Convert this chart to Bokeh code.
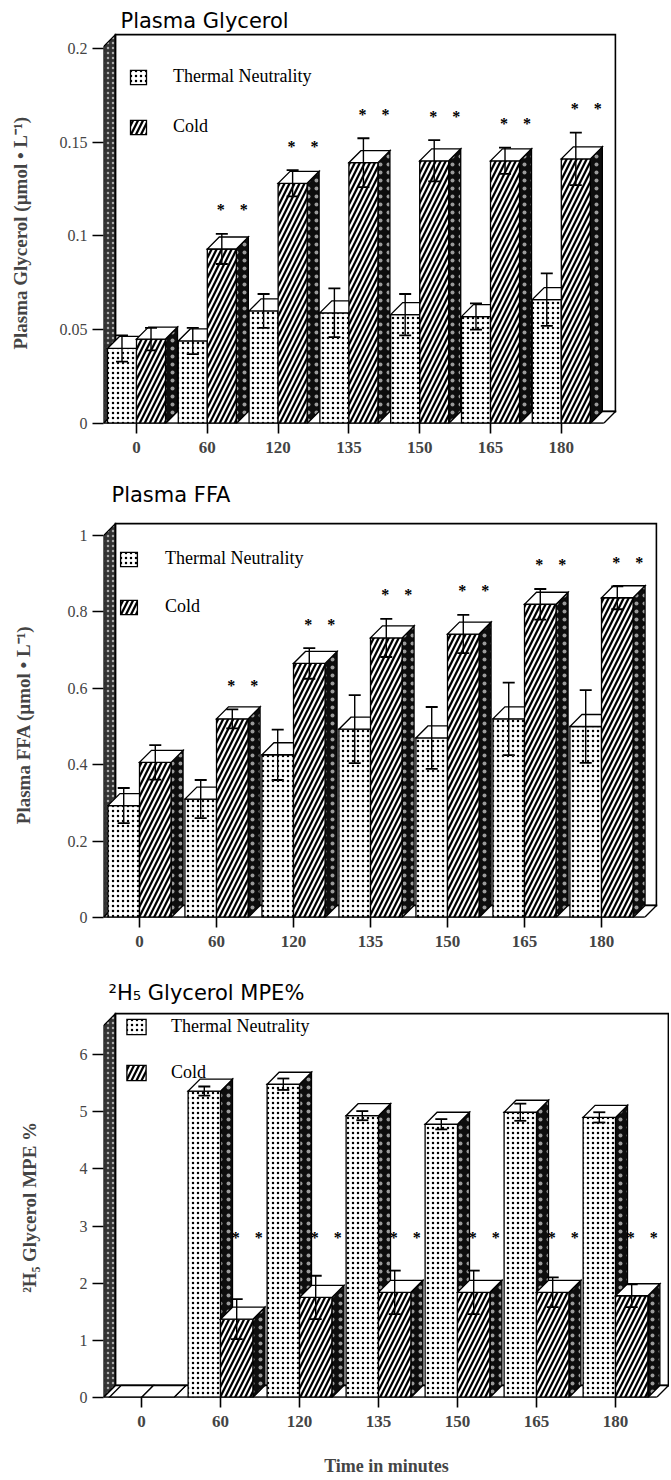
import numpy as np
from bokeh.plotting import figure
from bokeh.models import ColumnDataSource, FixedTicker, Legend, LegendItem, Title, Range1d
from bokeh.layouts import column
from bokeh.embed import file_html
from bokeh.resources import INLINE
from bokeh.core.properties import value

# ---------------- data ----------------
times = ["0", "60", "120", "135", "150", "165", "180"]
groups = ["Thermal Neutrality", "Cold"]

glycerol_tn = [0.040, 0.044, 0.060, 0.059, 0.058, 0.057, 0.066]
glycerol_tn_se = [0.007, 0.007, 0.009, 0.013, 0.011, 0.007, 0.014]
glycerol_cold = [0.045, 0.093, 0.128, 0.139, 0.140, 0.140, 0.141]
glycerol_cold_se = [0.006, 0.008, 0.007, 0.013, 0.011, 0.007, 0.014]
glycerol_sig = [False, True, True, True, True, True, True]
glycerol_ticks = [0, 0.05, 0.1, 0.15, 0.2]
glycerol_tick_labels = ["0", "0.05", "0.1", "0.15", "0.2"]

ffa_tn = [0.293, 0.310, 0.426, 0.493, 0.470, 0.520, 0.500]
ffa_tn_se = [0.046, 0.050, 0.066, 0.089, 0.081, 0.095, 0.095]
ffa_cold = [0.406, 0.520, 0.665, 0.732, 0.742, 0.820, 0.837]
ffa_cold_se = [0.045, 0.025, 0.040, 0.050, 0.050, 0.040, 0.030]
ffa_sig = [False, True, True, True, True, True, True]
ffa_ticks = [0, 0.2, 0.4, 0.6, 0.8, 1.0]
ffa_tick_labels = ["0", "0.2", "0.4", "0.6", "0.8", "1"]

mpe_tn = [0.0, 5.36, 5.48, 4.93, 4.78, 4.99, 4.90]
mpe_tn_se = [0.0, 0.08, 0.10, 0.08, 0.09, 0.15, 0.09]
mpe_cold = [0.0, 1.37, 1.75, 1.84, 1.84, 1.84, 1.78]
mpe_cold_se = [0.0, 0.35, 0.38, 0.38, 0.38, 0.26, 0.20]
mpe_sig = [False, True, True, True, True, True, True]
mpe_sig_level = 2.87
mpe_ticks = [0, 1, 2, 3, 4, 5, 6]
mpe_tick_labels = ["0", "1", "2", "3", "4", "5", "6"]

# ---------------- styling ----------------
W = 0.41            # bar width (category units)
DEPTH = (12, 12)    # 3-D depth in px (right, up)
CAP = 6             # half width of error-bar caps, px
STAR_DX = (-1, 22)  # px offsets of the two stars from the cold bar centre
STAR_DY = -24
SERIF = "Liberation Serif"
TITLE_FONT = "DejaVu Sans"
PAGE_W = 669

STYLES = {
    "slab":  dict(fill_color="#333333", hatch_pattern="dot", hatch_color="#aaaaaa", hatch_scale=5, hatch_weight=0.4, line_width=1.2),
    "wall":  dict(fill_color="white", hatch_pattern="blank", hatch_color="black", hatch_scale=6, hatch_weight=1, line_width=1.8),
    "floor": dict(fill_color="white", hatch_pattern="blank", hatch_color="black", hatch_scale=6, hatch_weight=1, line_width=1.4),
    "tn":    dict(fill_color="white", hatch_pattern="dot", hatch_color="black", hatch_scale=5, hatch_weight=1.1, line_width=1.3),
    "cold":  dict(fill_color="black", hatch_pattern="right_diagonal_line", hatch_color="white", hatch_scale=10, hatch_weight=2.2, line_width=1.3),
    "side":  dict(fill_color="#0d0d0d", hatch_pattern="dot", hatch_color="#9a9a9a", hatch_scale=8, hatch_weight=0.3, line_width=1.3),
    "top":   dict(fill_color="white", hatch_pattern="blank", hatch_color="black", hatch_scale=6, hatch_weight=1, line_width=1.3),
}


def build(geom, tn, tn_se, cold, cold_se, sig, ticks, tick_labels, ylabel, title,
          legend_geom, xlabel=None, sig_level=None):
    fl, fr, ft, fb = geom["frame"]
    top, bottom = geom["fig"]
    x0px, ppx = geom["xcat"]
    yv, ypx = geom["yref"]
    ppy = (fb - ypx) / yv
    xs_ = -(x0px - fl) / ppx
    xe_ = (fr - x0px) / ppx
    ye_ = (fb - ft) / ppy

    p = figure(frame_width=fr - fl, frame_height=fb - ft,
               x_range=Range1d(xs_, xe_), y_range=Range1d(0, ye_),
               min_border_left=fl, min_border_right=PAGE_W - fr,
               min_border_top=ft - top, min_border_bottom=bottom - fb,
               output_backend="svg", toolbar_location=None, tools="")
    p.outline_line_color = None
    p.grid.visible = False
    p.background_fill_color = "white"
    p.border_fill_color = "white"

    ddx = DEPTH[0] / ppx
    ddy = DEPTH[1] / ppy

    cols = {k: [] for k in ["xs", "ys", "fill_color", "hatch_pattern", "hatch_color",
                            "hatch_scale", "hatch_weight", "line_width"]}

    def add(xs, ys, style):
        cols["xs"].append(list(xs))
        cols["ys"].append(list(ys))
        for k, v in STYLES[style].items():
            cols[k].append(v)
        return len(cols["xs"]) - 1

    # 3-D scene: left slab, back wall, floor
    xl = xs_
    xr = xe_ - 1.0 / ppx
    yt = ye_ - 1.0 / ppy
    add([xl, xl + ddx, xl + ddx, xl], [0, ddy, yt, yt - ddy], "slab")
    add([xl + ddx, xr, xr, xl + ddx], [ddy, ddy, yt, yt], "wall")
    add([xl, xr - ddx, xr, xl + ddx], [0, 0, ddy, ddy], "floor")

    idx = {}
    for i in range(len(times)):
        for k, (vals, st) in enumerate(((tn, "tn"), (cold, "cold"))):
            v = vals[i]
            x0 = i - W if k == 0 else i
            add([x0 + W, x0 + W + ddx, x0 + W + ddx, x0 + W], [0, ddy, v + ddy, v], "side")
            j = add([x0, x0 + W, x0 + W, x0], [0, 0, v, v], st)
            add([x0, x0 + W, x0 + W + ddx, x0 + ddx], [v, v, v + ddy, v + ddy], "top")
            if i == 1:
                idx[st] = j

    src = ColumnDataSource(cols)
    r = p.patches(xs="xs", ys="ys", source=src, fill_color="fill_color",
                  hatch_pattern="hatch_pattern", hatch_color="hatch_color",
                  hatch_scale="hatch_scale", hatch_weight="hatch_weight",
                  line_color="black", line_width="line_width", line_join="miter")

    # front floor edge (x axis line)
    p.segment(x0=[xl], y0=[0], x1=[xr - ddx], y1=[0], line_color="black", line_width=2.2)

    # error bars
    cap = CAP / ppx
    for vals, err, off in ((tn, tn_se, -W / 2), (cold, cold_se, W / 2)):
        xc = [i + off for i in range(len(times)) if err[i] > 0]
        lo = [vals[i] - err[i] for i in range(len(times)) if err[i] > 0]
        hi = [vals[i] + err[i] for i in range(len(times)) if err[i] > 0]
        p.segment(x0=xc, y0=lo, x1=xc, y1=hi, line_color="black", line_width=1.4)
        p.segment(x0=[x - cap for x in xc], y0=hi, x1=[x + cap for x in xc], y1=hi, line_color="black", line_width=1.8)
        p.segment(x0=[x - cap for x in xc], y0=lo, x1=[x + cap for x in xc], y1=lo, line_color="black", line_width=1.8)

    # significance stars
    sx = [i + W / 2 for i in range(len(times)) if sig[i]]
    if sig_level is None:
        sy = [cold[i] + cold_se[i] for i in range(len(times)) if sig[i]]
        yoff = STAR_DY
    else:
        sy = [sig_level for i in range(len(times)) if sig[i]]
        yoff = 4
    for dx in STAR_DX:
        p.text(x=sx, y=sy, text=["*"] * len(sx), text_font=value(SERIF), text_font_size="16px",
               text_font_style="bold", text_align="center", text_baseline="middle",
               x_offset=dx, y_offset=yoff, text_color="black")

    # axes
    p.xaxis.ticker = FixedTicker(ticks=list(range(len(times))))
    p.xaxis.major_label_overrides = {i: t for i, t in enumerate(times)}
    p.yaxis.ticker = FixedTicker(ticks=ticks)
    p.yaxis.major_label_overrides = dict(zip(ticks, tick_labels))
    for ax in (p.xaxis[0], p.yaxis[0]):
        ax.axis_line_color = None
        ax.minor_tick_line_color = None
        ax.major_tick_line_color = "black"
        ax.major_tick_line_width = 1.6
        ax.major_tick_in = 0
    p.yaxis.major_tick_out = 11
    p.xaxis.major_tick_out = 10
    p.xaxis.major_label_standoff = 8
    p.yaxis.major_label_standoff = 5
    p.xaxis.major_label_text_font = SERIF
    p.xaxis.major_label_text_font_style = "bold"
    p.xaxis.major_label_text_font_size = "17px"
    p.yaxis.major_label_text_font = SERIF
    p.yaxis.major_label_text_font_size = "16px"
    p.yaxis.axis_label = ylabel
    p.yaxis.axis_label_text_font = SERIF
    p.yaxis.axis_label_text_font_style = "bold"
    p.yaxis.axis_label_text_font_size = "19px"
    p.yaxis.axis_label_standoff = geom["ylabel_standoff"]
    if xlabel:
        p.xaxis.axis_label = xlabel
        p.xaxis.axis_label_text_font = SERIF
        p.xaxis.axis_label_text_font_style = "bold"
        p.xaxis.axis_label_text_font_size = "18px"
        p.xaxis.axis_label_standoff = 26

    # panel title (effective gap to the frame is standoff/2)
    text, px, standoff, size = title
    p.add_layout(Title(text=text, align="left", offset=px - fl, standoff=standoff,
                       text_font=TITLE_FONT, text_font_size=size, text_font_style="normal",
                       text_color="black"), "above")

    # legend
    lx, ltop, gw, gh, pitch, standoff = legend_geom
    legend = Legend(items=[LegendItem(label=groups[0], renderers=[r], index=idx["tn"]),
                           LegendItem(label=groups[1], renderers=[r], index=idx["cold"])],
                    location=(lx - fl, fb - (ltop + pitch + gh) - 7),
                    orientation="vertical", glyph_width=gw, glyph_height=gh,
                    label_height=gh, label_standoff=standoff, spacing=pitch - gh,
                    padding=0, margin=0, background_fill_alpha=0, border_line_alpha=0,
                    label_text_font=SERIF, label_text_font_size="18px",
                    label_text_color="black")
    p.add_layout(legend)
    return p


g1 = dict(fig=(0, 463), frame=(103, 616, 33, 423), xcat=(136, 70.8), yref=(0.2, 47.7), ylabel_standoff=26)
g2 = dict(fig=(463, 955), frame=(103, 657, 522, 917), xcat=(139, 77.0), yref=(1.0, 535), ylabel_standoff=31)
g3 = dict(fig=(955, 1478), frame=(103, 669, 1012, 1397), xcat=(141, 79.0), yref=(6, 1054), ylabel_standoff=37)

p1 = build(g1, glycerol_tn, glycerol_tn_se, glycerol_cold, glycerol_cold_se, glycerol_sig,
           glycerol_ticks, glycerol_tick_labels, "Plasma  Glycerol  (\u00b5mol \u2022 L\u207b\u00b9)",
           ("Plasma   Glycerol", 120, 2, "21px"),
           (128, 65, 20, 18, 47, 25))
p2 = build(g2, ffa_tn, ffa_tn_se, ffa_cold, ffa_cold_se, ffa_sig,
           ffa_ticks, ffa_tick_labels, "Plasma  FFA  (\u00b5mol \u2022 L\u207b\u00b9)",
           ("Plasma   FFA", 111, 32, "21px"),
           (118, 547, 21, 18, 45, 26))
p3 = build(g3, mpe_tn, mpe_tn_se, mpe_cold, mpe_cold_se, mpe_sig,
           mpe_ticks, mpe_tick_labels, "\u00b2H\u2085  Glycerol MPE %",
           ("\u00b2H\u2085   Glycerol   MPE%", 108, 16, "21px"),
           (124, 1013, 24, 19, 44, 23), xlabel="Time in minutes", sig_level=mpe_sig_level)

layout = column(p1, p2, p3, spacing=0)
open("out.html", "w").write(file_html(layout, INLINE))
